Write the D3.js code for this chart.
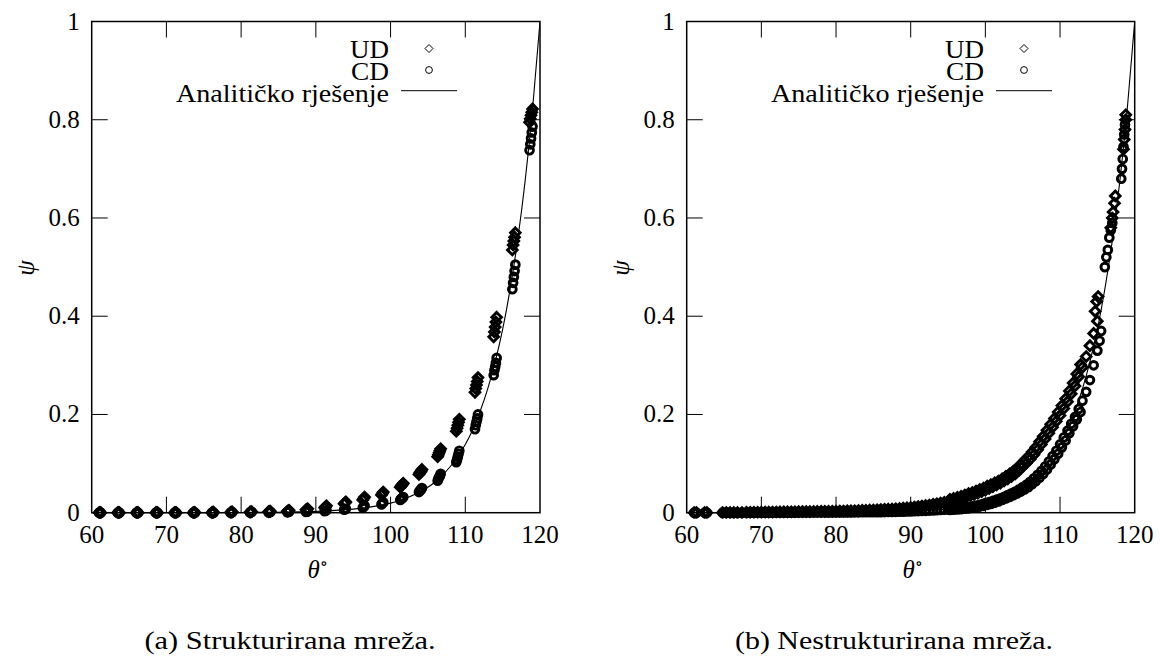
<!DOCTYPE html>
<html><head><meta charset="utf-8">
<script src="https://cdn.jsdelivr.net/npm/d3@7"></script>
<style>
body{margin:0;background:#fff;}
text{font-family:"Liberation Serif","Times New Roman","DejaVu Serif",serif;fill:#000;}
</style></head>
<body><svg id="c" width="1160" height="666"></svg>
<script>
// ---------- data ----------
const xTicks = [60, 70, 80, 90, 100, 110, 120];
const yTicks = [0, 0.2, 0.4, 0.6, 0.8, 1];
const yTickLabels = ["0", "0.2", "0.4", "0.6", "0.8", "1"];
const legendLabels = ["UD", "CD", "Analitičko rješenje"];
const captions = ["(a) Strukturirana mreža.", "(b) Nestrukturirana mreža."];

// analytic solution
const anTheta = [60, 70, 80, 85, 90, 95, 100, 102, 104, 106, 108, 110, 111, 112, 113, 114, 115, 116, 117, 118, 119, 120];
const anPsi   = [0, 0.00005, 0.0004, 0.001, 0.0027, 0.0073, 0.0195, 0.029, 0.043, 0.063, 0.094, 0.139, 0.169, 0.207, 0.252, 0.307, 0.373, 0.455, 0.554, 0.674, 0.821, 1.0];

// (a) structured mesh: columns of theta, each with a cluster of psi values
const leftTheta = [61.1, 63.6, 66.1, 68.7, 71.2, 73.7, 76.2, 78.7, 81.3, 83.8, 86.3, 88.8, 91.3, 93.9, 96.4, 98.9, 101.5, 104.0, 106.5, 109.0, 111.5, 114.0, 116.5, 118.8];
const clusterThetaOffset3 = [-0.12, 0, 0.12];
const clusterThetaOffset5 = [-0.2, -0.1, 0, 0.1, 0.2];
const leftUD = [
  [0,0,0],[0,0,0],[0,0,0],[0,0,0],[0,0,0],[0,0,0.0005],[0,0.0005,0.001],[0.0005,0.001,0.0015],
  [0.001,0.0015,0.002],[0.002,0.0025,0.003],[0.003,0.004,0.005],[0.006,0.007,0.008],
  [0.010,0.012,0.014],[0.018,0.020,0.022],[0.026,0.029,0.032],[0.036,0.039,0.042],
  [0.052,0.054,0.056,0.058,0.060],[0.078,0.081,0.083,0.085,0.088],[0.114,0.118,0.122,0.126,0.130],
  [0.166,0.172,0.178,0.184,0.190],[0.245,0.253,0.260,0.267,0.275],[0.358,0.368,0.378,0.388,0.398],
  [0.535,0.545,0.553,0.561,0.570],[0.795,0.802,0.809,0.815,0.822]
];
const leftCD = [
  [0,0,0],[0,0,0],[0,0,0],[0,0,0],[0,0,0],[0,0,0],[0,0,0],[0,0.0005,0.001],
  [0.0005,0.001,0.0015],[0.0005,0.001,0.0015],[0.001,0.0015,0.002],[0.0015,0.002,0.003],
  [0.003,0.004,0.005],[0.006,0.007,0.008],[0.010,0.012,0.014],[0.017,0.019,0.021],
  [0.026,0.028,0.029,0.030,0.032],[0.042,0.044,0.046,0.048,0.050],[0.065,0.069,0.072,0.075,0.079],
  [0.103,0.108,0.114,0.120,0.126],[0.170,0.178,0.185,0.192,0.200],[0.280,0.290,0.297,0.305,0.315],
  [0.455,0.468,0.480,0.492,0.505],[0.738,0.750,0.762,0.774,0.786]
];

// (b) unstructured mesh
const rightEarlyTheta = [61.0, 61.3, 62.4, 62.7, 64.8, 65.3, 65.8, 66.3, 66.8, 67.4];
const rightEarlyPsi   = [0, 0, 0, 0, 0, 0, 0, 0, 0, 0];
const rightTheta = [68,68.5,69,69.5,70,70.5,71,71.5,72,72.5,73,73.5,74,74.5,75,75.5,76,76.5,77,77.5,78,78.5,79,79.5,80,80.5,81,81.5,82,82.5,83,83.5,84,84.5,85,85.5,86,86.5,87,87.5,88,88.5,89,89.5,90,90.5,91,91.5,92,92.5,93,93.5,94,94.5,95,95.5,96,96.5,97,97.5,98,98.5,99,99.5,100,100.5,101,101.5,102,102.5,103,103.5,104,104.5,105,105.5,106,106.5,107,107.5,108,108.5,109,109.5,110,110.5,111,111.5,112,112.5,113,113.5,114,114.5,115];
const rightUD = [0.0006,0.0007,0.0008,0.0009,0.001,0.0011,0.0012,0.0013,0.0014,0.0015,0.0016,0.0017,0.0018,0.0019,0.002,0.0021,0.0022,0.0023,0.0024,0.0025,0.0026,0.0027,0.0028,0.0029,0.003,0.0032,0.0034,0.0036,0.0038,0.004,0.0043,0.0046,0.0049,0.0052,0.0055,0.0059,0.0063,0.0067,0.0071,0.0075,0.008,0.0086,0.0092,0.0098,0.0105,0.0114,0.0124,0.0134,0.0145,0.0157,0.017,0.0182,0.0195,0.021,0.0226,0.0243,0.026,0.028,0.030,0.0325,0.035,0.0375,0.040,0.043,0.046,0.0495,0.053,0.0565,0.060,0.0645,0.069,0.074,0.079,0.086,0.094,0.101,0.109,0.118,0.128,0.139,0.150,0.162,0.174,0.186,0.198,0.212,0.226,0.242,0.258,0.277,0.296,0.318,0.34,0.365,0.39];
const rightCD = [0,0,0,0,0,0,0.0001,0.0001,0.0001,0.0001,0.0002,0.0002,0.0002,0.0002,0.0003,0.0003,0.0003,0.0003,0.0004,0.0004,0.0004,0.0004,0.0005,0.0005,0.0005,0.0006,0.0006,0.0007,0.0007,0.0008,0.0008,0.0009,0.0009,0.001,0.001,0.0011,0.0012,0.0013,0.0014,0.0016,0.0018,0.002,0.0022,0.0024,0.0027,0.003,0.0033,0.0036,0.0039,0.0043,0.0047,0.0051,0.0056,0.0062,0.0069,0.0076,0.0083,0.0092,0.0102,0.0113,0.0125,0.0138,0.0152,0.0172,0.0195,0.0217,0.024,0.0265,0.029,0.0325,0.036,0.0395,0.043,0.047,0.052,0.057,0.063,0.07,0.077,0.085,0.094,0.104,0.115,0.126,0.139,0.153,0.167,0.181,0.195,0.211,0.228,0.246,0.27,0.30,0.33];
// outer edges of the two bands (mesh points farther from the band centre)
const rightEdgeTheta = [95.25,95.75,96.25,96.75,97.25,97.75,98.25,98.75,99.25,99.75,100.25,100.75,101.25,101.75,102.25,102.75,103.25,103.75,104.25,104.75,105.25,105.75,106.25,106.75,107.25,107.75,108.25,108.75,109.25,109.75,110.25,110.75,111.25,111.75,112.25,112.75];
const rightUDEdge = [0.027,0.029,0.0315,0.0335,0.036,0.039,0.041,0.044,0.047,0.050,0.054,0.057,0.061,0.0645,0.069,0.074,0.079,0.0845,0.0905,0.0985,0.1065,0.114,0.1235,0.133,0.1445,0.1555,0.168,0.18,0.192,0.205,0.218,0.232,0.248,0.264,0.2825,0.3015];
const rightCDEdge = [0.0055,0.006,0.0065,0.0072,0.008,0.009,0.010,0.011,0.0125,0.014,0.016,0.018,0.0205,0.023,0.026,0.029,0.032,0.0355,0.039,0.043,0.0475,0.052,0.058,0.064,0.071,0.079,0.088,0.098,0.109,0.12,0.133,0.147,0.162,0.176,0.19,0.205];
const rightUDExtra = [[114.7,0.41],[114.9,0.43],[115.1,0.44],[116.8,0.58],[117.0,0.60],[117.1,0.612],[117.3,0.63],[117.4,0.645],[118.5,0.74],[118.6,0.76],[118.7,0.78],[118.8,0.80],[118.8,0.81]];
const rightCDExtra = [[115.3,0.35],[115.5,0.37],[116.0,0.50],[116.2,0.52],[116.4,0.535],[116.6,0.56],[116.8,0.575],[117.0,0.59],[118.2,0.68],[118.3,0.70],[118.4,0.72],[118.5,0.745],[118.6,0.77],[118.7,0.79]];

// ---------- build point sets ----------
function clusterPoints(thetas, clusters){
  const pts = [];
  thetas.forEach((t,i)=>{
    const offs = clusters[i].length === 5 ? clusterThetaOffset5 : clusterThetaOffset3;
    clusters[i].forEach((p,j)=>pts.push([t + offs[j], p]));
  });
  return pts;
}
const zip = (a, b) => a.map((t,i)=>[t, b[i]]);
const panels = [
  { x0: 91.7, x1: 540, legendTextX: 389, legendSymX: 429, legendLine: [401, 457], caption: captions[0], captionX: 290, captionLen: 291,
    ud: clusterPoints(leftTheta, leftUD), cd: clusterPoints(leftTheta, leftCD) },
  { x0: 686.7, x1: 1134.7, legendTextX: 984, legendSymX: 1024, legendLine: [996, 1052], caption: captions[1], captionX: 894, captionLen: 318,
    ud: zip(rightEarlyTheta, rightEarlyPsi).concat(zip(rightTheta, rightUD), zip(rightEdgeTheta, rightUDEdge), rightUDExtra),
    cd: zip(rightEarlyTheta, rightEarlyPsi).concat(zip(rightTheta, rightCD), zip(rightEdgeTheta, rightCDEdge), rightCDExtra) }
];
const Y0 = 21.5, Y1 = 512.7;
const svg = d3.select("#c");
const diamond = r => `M0,${-r}L${r},0L0,${r}L${-r},0Z`;
const legendLens = [39, 38, 213];
const FF = '"Liberation Serif","Times New Roman","DejaVu Serif",serif';

panels.forEach((P, pi) => {
  const x = d3.scaleLinear().domain([60,120]).range([P.x0, P.x1]);
  const y = d3.scaleLinear().domain([0,1]).range([Y1, Y0]);
  const g = svg.append("g").attr("font-family", FF);
  const clipId = "clip"+pi;
  svg.append("defs").append("clipPath").attr("id", clipId)
    .append("rect").attr("x", P.x0-6).attr("y", Y0).attr("width", P.x1-P.x0+6).attr("height", Y1-Y0+6);

  // ticks (inside, mirrored)
  const tl = 16;
  xTicks.forEach(t => {
    if (t===60 || t===120) return;
    g.append("line").attr("x1", x(t)).attr("x2", x(t)).attr("y1", Y1).attr("y2", Y1-tl).attr("stroke","#000").attr("stroke-width",1);
    g.append("line").attr("x1", x(t)).attr("x2", x(t)).attr("y1", Y0).attr("y2", Y0+tl).attr("stroke","#000").attr("stroke-width",1);
  });
  yTicks.forEach(t => {
    if (t===0 || t===1) return;
    g.append("line").attr("x1", P.x0).attr("x2", P.x0+tl).attr("y1", y(t)).attr("y2", y(t)).attr("stroke","#000").attr("stroke-width",1);
    g.append("line").attr("x1", P.x1).attr("x2", P.x1-tl).attr("y1", y(t)).attr("y2", y(t)).attr("stroke","#000").attr("stroke-width",1);
  });
  // tick labels
  xTicks.forEach(t => g.append("text").attr("x", x(t)).attr("y", 543).attr("text-anchor","middle").attr("font-size",25).text(t));
  yTicks.forEach((t,i) => g.append("text").attr("x", P.x0-12).attr("y", y(t)+8).attr("text-anchor","end").attr("font-size",25).text(yTickLabels[i]));

  // frame
  g.append("rect").attr("x", P.x0).attr("y", Y0).attr("width", P.x1-P.x0).attr("height", Y1-Y0)
    .attr("fill","none").attr("stroke","#000").attr("stroke-width",1.5);

  // data
  const pg = g.append("g").attr("clip-path", `url(#${clipId})`);
  const line = d3.line().x(d=>x(d[0])).y(d=>y(d[1])).curve(d3.curveMonotoneX);
  pg.append("path").datum(zip(anTheta, anPsi)).attr("d", line)
    .attr("fill","none").attr("stroke","#000").attr("stroke-width",1.1);
  pg.selectAll("path.ud").data(P.ud).join("path").attr("class","ud")
    .attr("transform", d => `translate(${x(d[0])},${y(d[1])})`)
    .attr("d", diamond(4.8)).attr("fill","none").attr("stroke","#000").attr("stroke-width",2.9);
  pg.selectAll("circle.cd").data(P.cd).join("circle").attr("class","cd")
    .attr("cx", d => x(d[0])).attr("cy", d => y(d[1])).attr("r", 3.9)
    .attr("fill","none").attr("stroke","#000").attr("stroke-width",2.9);

  // legend
  const rows = [58.3, 80, 101.7];
  legendLabels.forEach((lab,i) => g.append("text").attr("x", P.legendTextX).attr("y", rows[i]).attr("text-anchor","end")
    .attr("font-size",25).attr("textLength", legendLens[i]).attr("lengthAdjust","spacingAndGlyphs").text(lab));
  g.append("path").attr("transform", `translate(${P.legendSymX},48.5)`).attr("d", diamond(4)).attr("fill","none").attr("stroke","#000").attr("stroke-width",1);
  g.append("circle").attr("cx", P.legendSymX).attr("cy", 70).attr("r", 3.4).attr("fill","none").attr("stroke","#000").attr("stroke-width",1);
  g.append("line").attr("x1", P.legendLine[0]).attr("x2", P.legendLine[1]).attr("y1", 90.7).attr("y2", 90.7).attr("stroke","#000").attr("stroke-width",1);

  // axis labels
  const cx = (P.x0+P.x1)/2;
  g.append("text").attr("x", cx+2).attr("y", 578).attr("text-anchor","middle").attr("font-size",25)
    .html('<tspan font-style="italic">θ</tspan><tspan dy="-9" font-size="17">∘</tspan>');
  g.append("text").attr("transform", `translate(${P.x0-58},268) rotate(-90)`).attr("text-anchor","middle")
    .attr("font-size",25).attr("font-style","italic").text("ψ");

  // caption
  g.append("text").attr("x", P.captionX).attr("y", 649).attr("text-anchor","middle").attr("font-size",25)
    .attr("textLength", P.captionLen).attr("lengthAdjust","spacingAndGlyphs").text(P.caption);
});
</script></body></html>
